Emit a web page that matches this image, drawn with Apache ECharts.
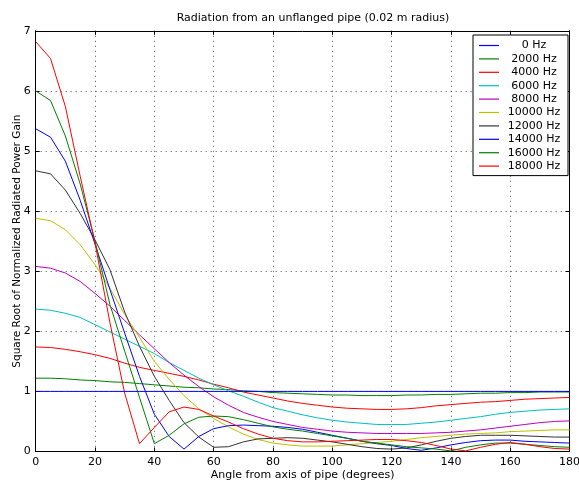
<!DOCTYPE html>
<html>
<head>
<meta charset="utf-8">
<script src="https://cdn.jsdelivr.net/npm/echarts@6/dist/echarts.min.js"></script>
<style>
  html, body { margin: 0; padding: 0; background: #fff; }
  #main { width: 579px; height: 483px; }
</style>
</head>
<body>
<div id="main"></div>
<script>
var angles = [0,5,10,15,20,25,30,35,40,45,50,55,60,65,70,75,80,85,90,95,100,105,110,115,120,125,130,135,140,145,150,155,160,165,170,175,180];

var freqNames = ['0 Hz','2000 Hz','4000 Hz','6000 Hz','8000 Hz','10000 Hz','12000 Hz','14000 Hz','16000 Hz','18000 Hz'];
var colors = ['#0000ff','#008000','#ff0000','#00bfbf','#bf00bf','#bfbf00','#333333','#0000ff','#008000','#ff0000'];

var g0 = [1,1,1,1,1,1,1,1,1,1,1,1,1,1,1,1,1,1,1,1,1,1,1,1,1,1,1,1,1,1,1,1,1,1,1,1,1];
var g2000 = [1.22,1.22,1.21,1.19,1.18,1.16,1.15,1.13,1.11,1.09,1.07,1.06,1.04,1.03,1.01,1.00,0.98,0.97,0.96,0.95,0.94,0.94,0.93,0.93,0.93,0.94,0.94,0.95,0.95,0.96,0.97,0.97,0.98,0.98,0.99,0.99,0.99];
var g4000 = [1.74,1.73,1.70,1.66,1.61,1.55,1.47,1.40,1.35,1.30,1.25,1.19,1.12,1.06,0.99,0.94,0.89,0.84,0.80,0.77,0.74,0.72,0.71,0.70,0.70,0.71,0.73,0.76,0.78,0.80,0.82,0.83,0.85,0.87,0.88,0.89,0.90];
var g6000 = [2.37,2.35,2.30,2.23,2.11,1.99,1.87,1.75,1.63,1.48,1.35,1.22,1.11,1.01,0.92,0.82,0.73,0.67,0.61,0.56,0.52,0.49,0.47,0.45,0.45,0.45,0.47,0.49,0.52,0.55,0.58,0.62,0.65,0.67,0.69,0.70,0.71];
var g8000 = [3.08,3.05,2.97,2.83,2.63,2.42,2.18,1.94,1.71,1.48,1.27,1.08,0.91,0.77,0.65,0.57,0.50,0.45,0.40,0.37,0.34,0.32,0.31,0.30,0.30,0.30,0.30,0.31,0.32,0.34,0.36,0.39,0.42,0.45,0.48,0.50,0.51];
var g10000 = [3.88,3.84,3.69,3.44,3.11,2.72,2.28,1.90,1.50,1.20,0.93,0.71,0.55,0.41,0.29,0.20,0.14,0.11,0.09,0.09,0.09,0.11,0.13,0.15,0.17,0.20,0.23,0.25,0.27,0.29,0.30,0.31,0.33,0.34,0.35,0.36,0.36];
var g12000 = [4.67,4.62,4.35,3.96,3.52,3.03,2.32,1.75,1.25,0.85,0.48,0.24,0.07,0.08,0.16,0.21,0.22,0.23,0.22,0.19,0.16,0.12,0.08,0.05,0.04,0.06,0.11,0.17,0.22,0.25,0.27,0.27,0.27,0.26,0.25,0.24,0.24];
var g14000 = [5.37,5.23,4.83,4.18,3.45,2.70,1.97,1.25,0.62,0.25,0.04,0.25,0.38,0.43,0.44,0.43,0.42,0.40,0.37,0.32,0.27,0.22,0.17,0.13,0.10,0.05,0.02,0.06,0.11,0.15,0.18,0.19,0.19,0.17,0.16,0.15,0.14];
var g16000 = [6.00,5.84,5.25,4.45,3.50,2.45,1.67,0.90,0.13,0.27,0.46,0.57,0.59,0.58,0.53,0.47,0.41,0.37,0.34,0.30,0.26,0.22,0.17,0.14,0.11,0.08,0.06,0.04,0.01,0.07,0.11,0.14,0.14,0.12,0.10,0.08,0.07];
var g18000 = [6.82,6.54,5.74,4.58,3.47,2.15,0.97,0.13,0.40,0.66,0.74,0.70,0.59,0.49,0.38,0.29,0.22,0.18,0.16,0.16,0.17,0.18,0.19,0.20,0.20,0.18,0.15,0.10,0.04,0.01,0.07,0.12,0.15,0.12,0.08,0.05,0.04];

var gains = [g0,g2000,g4000,g6000,g8000,g10000,g12000,g14000,g16000,g18000];

var dom = document.getElementById('main');
var myChart = echarts.init(dom);

// 0 Hz goes last in the series list; legend order stays as in freqNames
var order = [1,2,3,4,5,6,7,8,9,0];
var series = [];
var legendData = [];
for (var k = 0; k < order.length; k++) {
  var i = order[k];
  var pts = [];
  for (var j = 0; j < angles.length; j++) {
    pts.push([angles[j], gains[i][j]]);
  }
  series.push({
    name: freqNames[i],
    type: 'line',
    data: pts,
    symbol: 'none',
    z: 5,
    lineStyle: { color: colors[i], width: 1 },
    itemStyle: { color: colors[i] }
  });
}
for (var m = 0; m < freqNames.length; m++) {
  legendData.push({ name: freqNames[m], itemStyle: { color: colors[m], borderWidth: 0 } });
}

var fontName = 'DejaVu Sans';

var option = {
  backgroundColor: '#ffffff',
  animation: false,
  title: {
    text: 'Radiation from an unflanged pipe (0.02 m radius)',
    left: 308,
    textAlign: 'center',
    top: 8,
    textStyle: { fontFamily: fontName, fontSize: 11, fontWeight: 'normal', color: '#000' }
  },
  legend: {
    orient: 'vertical',
    left: 473,
    top: 35,
    padding: [5, 4, 4, 6],
    itemGap: 2.4,
    itemWidth: 20,
    itemHeight: 1.2,
    icon: 'rect',
    borderColor: '#000',
    borderWidth: 1,
    backgroundColor: '#fff',
    data: legendData,
    formatter: function (name) { return '{c|' + name + '}'; },
    textStyle: {
      fontFamily: fontName, fontSize: 11, color: '#000',
      rich: { c: { width: 60, align: 'center', fontFamily: fontName, fontSize: 11, lineHeight: 12 } }
    }
  },
  grid: { left: 35.7, right: 9.4, top: 30.8, bottom: 31.5, containLabel: false, outerBoundsMode: 'none' },
  xAxis: [{
    type: 'value', min: 0, max: 180, interval: 20,
    name: 'Angle from axis of pipe (degrees)',
    nameLocation: 'middle', nameGap: 18, nameMoveOverlap: false,
    nameTextStyle: { fontFamily: fontName, fontSize: 11, color: '#000' },
    axisLine: { show: true, onZero: false, lineStyle: { color: '#000', width: 1 } },
    axisTick: { show: true, inside: true, length: 4, lineStyle: { color: '#000' } },
    axisLabel: { fontFamily: fontName, fontSize: 11, color: '#000', margin: 5 },
    splitLine: { show: true, lineStyle: { color: '#555', type: [1, 4], width: 1 } }
  }, {
    type: 'value', min: 0, max: 180, interval: 20, position: 'top',
    axisLine: { show: true, onZero: false, lineStyle: { color: '#000', width: 1 } },
    axisTick: { show: true, inside: true, length: 4, lineStyle: { color: '#000' } },
    axisLabel: { show: false },
    splitLine: { show: false }
  }],
  yAxis: [{
    type: 'value', min: 0, max: 7, interval: 1,
    name: 'Square Root of Normalized Radiated Power Gain',
    nameLocation: 'middle', nameGap: 13, nameMoveOverlap: false,
    nameTextStyle: { fontFamily: fontName, fontSize: 10.5, color: '#000' },
    axisLine: { show: true, onZero: false, lineStyle: { color: '#000', width: 1 } },
    axisTick: { show: true, inside: true, length: 4, lineStyle: { color: '#000' } },
    axisLabel: { fontFamily: fontName, fontSize: 11, color: '#000', margin: 5 },
    splitLine: { show: true, lineStyle: { color: '#555', type: [1, 4], width: 1 } }
  }, {
    type: 'value', min: 0, max: 7, interval: 1, position: 'right',
    axisLine: { show: true, onZero: false, lineStyle: { color: '#000', width: 1 } },
    axisTick: { show: true, inside: true, length: 4, lineStyle: { color: '#000' } },
    axisLabel: { show: false },
    splitLine: { show: false }
  }],
  series: series
};

myChart.setOption(option);
</script>
</body>
</html>
